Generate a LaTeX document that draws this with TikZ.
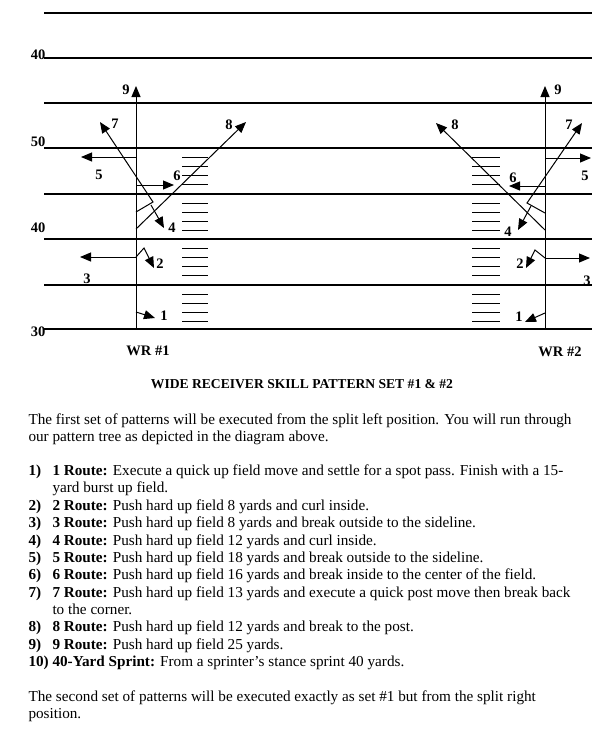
\documentclass[tikz,border=0pt]{standalone}
\usepackage{fontspec}
\setmainfont{Liberation Serif}
\usetikzlibrary{arrows.meta}

\begin{document}
\begin{tikzpicture}[x=1pt,y=-1pt,line width=1pt,
    yard/.style={line width=1.1pt},
    route/.style={-{Triangle[length=11pt,width=9pt]}},
    num/.style={font=\fontsize{14.5}{16}\selectfont\bfseries,inner sep=0pt},
    txt/.style={font=\fontsize{15.2}{17}\selectfont,anchor=base west,inner sep=0pt}]
  \useasboundingbox (0,0) rectangle (611,753);

  % yard lines and numbers
  \foreach \y in {13,58,103,148,194,239,285,329}
    \draw[yard] (44,\y) -- (592,\y);
  \node[num] (y40a) at (38,55) {40};
  \node[num] (y50) at (38,142) {50};
  \node[num] (y40b) at (38,228) {40};
  \node[num] (y30) at (38,332) {30};

  % hash marks
  \foreach \y in {157,166,175,184,203,212,221,230,248,257,266,275,294,303,312,321} {
    \draw (182,\y) -- (208,\y);
    \draw (472,\y) -- (500,\y);
  }

  % WR #1 (split left)
  \coordinate (L0) at (136,329);
  \coordinate (L9) at (136,86);
  \coordinate (L7a) at (136,212);
  \coordinate (L7b) at (153,202);
  \coordinate (L7) at (100,122);
  \coordinate (L4a) at (151,205);
  \coordinate (L4) at (164,228);
  \coordinate (L8a) at (136,229);
  \coordinate (L8) at (246,122);
  \coordinate (L6a) at (136,185);
  \coordinate (L6) at (174,185);
  \coordinate (L5a) at (136,157);
  \coordinate (L5) at (81,157);
  \coordinate (L3a) at (136,257);
  \coordinate (L3) at (80,257);
  \coordinate (L2b) at (144,248);
  \coordinate (L2) at (154,268);
  \coordinate (L1a) at (136,312);
  \coordinate (L1) at (155,318);

  \draw[route] (L0) -- (L9);
  \draw[route] (L7a) -- (L7b) -- (L7);
  \draw[route] (L4a) -- (L4);
  \draw[route] (L8a) -- (L8);
  \draw[route] (L6a) -- (L6);
  \draw[route] (L5a) -- (L5);
  \draw[route] (L3a) -- (L3);
  \draw[route] (L3a) -- (L2b) -- (L2);
  \draw[route] (L1a) -- (L1);

  \node[num] (l9) at (126,90) {9};
  \node[num] (l7) at (115,124) {7};
  \node[num] (l8) at (229,125) {8};
  \node[num] (l6) at (177,176) {6};
  \node[num] (l5) at (99,175) {5};
  \node[num] (l4) at (172,228) {4};
  \node[num] (l3) at (87,279) {3};
  \node[num] (l2) at (160,264) {2};
  \node[num] (l1) at (164,316) {1};
  \node[num] (wr1) at (148,351) {WR \#1};

  % WR #2 (split right)
  \coordinate (R0) at (545,329);
  \coordinate (R9) at (545,86);
  \coordinate (R7a) at (545,213);
  \coordinate (R7b) at (527,203);
  \coordinate (R7) at (582,123);
  \coordinate (R4a) at (531,206);
  \coordinate (R4) at (518,230);
  \coordinate (R8a) at (545,230);
  \coordinate (R8) at (436,123);
  \coordinate (R6a) at (545,186);
  \coordinate (R6) at (509,186);
  \coordinate (R5a) at (545,158);
  \coordinate (R5) at (591,158);
  \coordinate (R3a) at (545,258);
  \coordinate (R3) at (590,258);
  \coordinate (R2b) at (535,250);
  \coordinate (R2) at (526,268);
  \coordinate (R1a) at (545,313);
  \coordinate (R1) at (525,322);

  \draw[route] (R0) -- (R9);
  \draw[route] (R7a) -- (R7b) -- (R7);
  \draw[route] (R4a) -- (R4);
  \draw[route] (R8a) -- (R8);
  \draw[route] (R6a) -- (R6);
  \draw[route] (R5a) -- (R5);
  \draw[route] (R3a) -- (R3);
  \draw[route] (R3a) -- (R2b) -- (R2);
  \draw[route] (R1a) -- (R1);

  \node[num] (r9) at (558,90) {9};
  \node[num] (r7) at (569,125) {7};
  \node[num] (r8) at (455,125) {8};
  \node[num] (r6) at (513,178) {6};
  \node[num] (r5) at (585,176) {5};
  \node[num] (r4) at (508,232) {4};
  \node[num] (r3) at (587,281) {3};
  \node[num] (r2) at (520,264) {2};
  \node[num] (r1) at (519,317) {1};
  \node[num] (wr2) at (560,352) {WR \#2};

  % description
  \node[num,font=\fontsize{13.6}{16}\selectfont\bfseries] (title) at (302,384) {WIDE RECEIVER SKILL PATTERN SET \#1 \& \#2};
  \node[txt] (p1a) at (28,424) {The first set of patterns will be executed from the split left position. You will run through};
  \node[txt] (p1b) at (28,441) {our pattern tree as depicted in the diagram above.};
  \foreach \n/\y/\t in {
      1)/475/{\textbf{1 Route:} Execute a quick up field move and settle for a spot pass. Finish with a 15-},
      /492/{yard burst up field.},
      2)/510/{\textbf{2 Route:} Push hard up field 8 yards and curl inside.},
      3)/527/{\textbf{3 Route:} Push hard up field 8 yards and break outside to the sideline.},
      4)/545/{\textbf{4 Route:} Push hard up field 12 yards and curl inside.},
      5)/562/{\textbf{5 Route:} Push hard up field 18 yards and break outside to the sideline.},
      6)/579/{\textbf{6 Route:} Push hard up field 16 yards and break inside to the center of the field.},
      7)/597/{\textbf{7 Route:} Push hard up field 13 yards and execute a quick post move then break back},
      /614/{to the corner.},
      8)/631/{\textbf{8 Route:} Push hard up field 12 yards and break to the post.},
      9)/649/{\textbf{9 Route:} Push hard up field 25 yards.},
      10)/666/{\textbf{40-Yard Sprint:} From a sprinter’s stance sprint 40 yards.}} {
    \node[txt] (n\y) at (28,\y) {\textbf{\n}};
    \node[txt] (i\y) at (52,\y) {\t};
  }
  \node[txt] (p2a) at (28,701) {The second set of patterns will be executed exactly as set \#1 but from the split right};
  \node[txt] (p2b) at (28,718) {position.};
\end{tikzpicture}
\end{document}
